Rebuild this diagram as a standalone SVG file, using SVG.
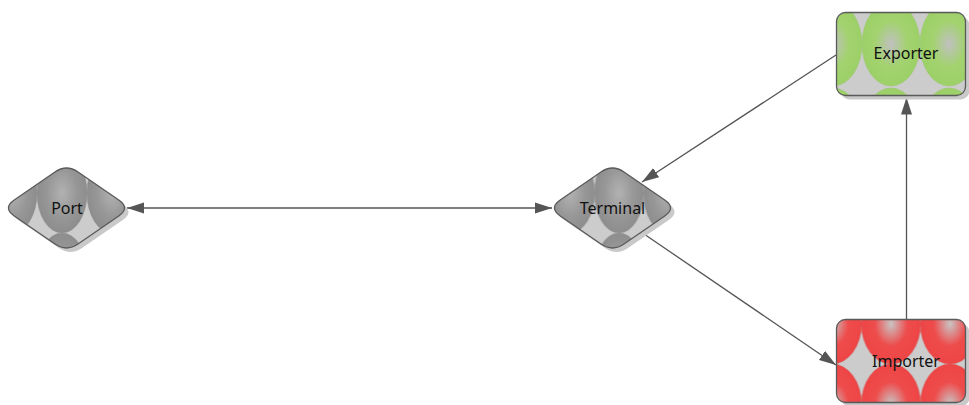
<svg xmlns="http://www.w3.org/2000/svg" width="969" height="405" viewBox="0 0 969 405">
<style>
.node{stroke:#5a5a5a;stroke-width:1.3}
.shadow{fill:#c9c9c9}
.edge{fill:none;stroke:#555;stroke-width:1.3}
.lbl{font-family:"Noto Sans","Open Sans","DejaVu Sans",sans-serif;font-size:16px;fill:#111;text-anchor:middle}
</style>
<defs>
<radialGradient id="gGrey"><stop offset="0" stop-color="#b2b2b2"/><stop offset="0.6" stop-color="#979797"/><stop offset="1" stop-color="#8d8d8d"/></radialGradient>
<radialGradient id="gGreen"><stop offset="0" stop-color="#c0c0c0"/><stop offset="0.55" stop-color="#a3d26f"/><stop offset="1" stop-color="#9dd068"/></radialGradient>
<radialGradient id="gRed"><stop offset="0" stop-color="#c9c4c4"/><stop offset="0.55" stop-color="#ee4c4c"/><stop offset="1" stop-color="#ee4545"/></radialGradient>
<pattern id="pPort" patternUnits="userSpaceOnUse" x="-29.5" y="-55" width="50" height="80"><rect width="50" height="80" fill="#cccccc"/><ellipse cx="25" cy="40" rx="25" ry="40" fill="url(#gGrey)" stroke="#8a8a8a" stroke-width="0.5"/></pattern>
<pattern id="pTerm" patternUnits="userSpaceOnUse" x="-18" y="-55" width="49" height="80"><rect width="49" height="80" fill="#cccccc"/><ellipse cx="24.5" cy="40" rx="24.5" ry="40" fill="url(#gGrey)" stroke="#8a8a8a" stroke-width="0.5"/></pattern>
<pattern id="pExp" patternUnits="userSpaceOnUse" x="862" y="1" width="58" height="86"><rect width="58" height="86" fill="#cccccc"/><ellipse cx="29" cy="43" rx="29" ry="42" fill="url(#gGreen)" stroke="#98c466" stroke-width="0.5"/></pattern>
<pattern id="pImp" patternUnits="userSpaceOnUse" x="861.5" y="284" width="59" height="80"><rect width="59" height="80" fill="#cccccc"/><ellipse cx="29.5" cy="40" rx="29.5" ry="40" fill="url(#gRed)" stroke="#d83c3c" stroke-width="0.5"/></pattern>
<path id="diamond" d="M -52.27,-7.94 L -11.53,-36.01 Q 0,-43.95 11.53,-36.01 L 52.27,-7.94 Q 63.8,0 52.27,7.94 L 11.53,36.01 Q 0,43.95 -11.53,36.01 L -52.27,7.94 Q -63.8,0 -52.27,-7.94 Z"/>
<marker id="arr" markerUnits="userSpaceOnUse" markerWidth="18" markerHeight="12" refX="17" refY="6" orient="auto-start-reverse" viewBox="0 0 18 12"><path d="M0,0.5 L17,6 L0,11.5 Z" fill="#555"/></marker>
</defs>

<g id="connectors">
<path class="edge" d="M 127,208 L 552,208" marker-start="url(#arr)" marker-end="url(#arr)"/>
<path class="edge" d="M 836,55 L 642,182" marker-end="url(#arr)"/>
<path class="edge" d="M 644,234 L 836,365" marker-end="url(#arr)"/>
<path class="edge" d="M 906.5,319.5 L 906.5,97.5" marker-end="url(#arr)"/>
</g>

<g id="port">
<use href="#diamond" class="shadow" transform="translate(70.5,212)"/>
<use href="#diamond" class="node" fill="url(#pPort)" transform="translate(66.5,208)"/>
<text class="lbl" x="67" y="213.5">Port</text>
</g>

<g id="terminal">
<use href="#diamond" class="shadow" transform="translate(616.5,212)"/>
<use href="#diamond" class="node" fill="url(#pTerm)" transform="translate(612.5,208)"/>
<text class="lbl" x="612.5" y="213.5">Terminal</text>
</g>

<g id="exporter">
<rect class="shadow" x="840.5" y="16.5" width="129" height="83" rx="9"/>
<rect class="node" x="836.5" y="12.5" width="129" height="83" rx="9" fill="url(#pExp)"/>
<text class="lbl" x="906" y="59">Exporter</text>
</g>

<g id="importer">
<rect class="shadow" x="840.5" y="323.5" width="129" height="83" rx="9"/>
<rect class="node" x="836.5" y="319.5" width="129" height="83" rx="9" fill="url(#pImp)"/>
<text class="lbl" x="906" y="367">Importer</text>
</g>
</svg>
